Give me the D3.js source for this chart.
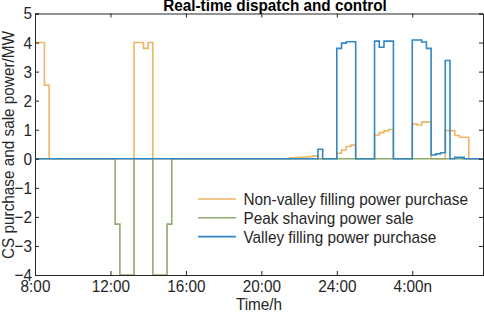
<!DOCTYPE html>
<html>
<head>
    <meta charset="UTF-8">
    <title>Real-time dispatch and control</title>
    <style>
        body { margin: 0; background: #fff; }
        text { font-family: "Liberation Sans", Arial, sans-serif; }
    </style>
</head>
<body>
<div id="chart"></div>
<script src="https://cdn.jsdelivr.net/npm/d3@7/dist/d3.min.js"></script>
<script>
// 15-minute slots, slot 0 = 8:00, slot 95 = 7:45 next day
const nonValley = [
    4, 4, 2.53, 0, 0, 0, 0, 0,
    0, 0, 0, 0, 0, 0, 0, 0,
    0, 0, 0, 0, 0, 4, 4, 3.8,
    4, 0, 0, 0, 0, 0, 0, 0,
    0, 0, 0, 0, 0, 0, 0, 0,
    0, 0, 0, 0, 0, 0, 0, 0,
    0, 0, 0, 0, 0, 0, 0.03, 0.04,
    0.05, 0.06, 0.08, 0.1, 0, 0, 0, 0,
    0.19, 0.3, 0.42, 0.47, 0, 0, 0, 0,
    0.82, 0.9, 0.96, 1.01, 0, 0, 0, 0,
    1.2, 1.16, 1.26, 1.27, 0, 0, 0, 0.97,
    0.97, 0.8, 0.74, 0.74, 0, 0, 0, 0
];
const peakSale = [
    0, 0, 0, 0, 0, 0, 0, 0,
    0, 0, 0, 0, 0, 0, 0, 0,
    0, -2.25, -4, -4, -4, 0, 0, 0,
    0, -4, -4, -4, -2.25, 0, 0, 0,
    0, 0, 0, 0, 0, 0, 0, 0,
    0, 0, 0, 0, 0, 0, 0, 0,
    0, 0, 0, 0, 0, 0, 0, 0,
    0, 0, 0, 0, 0, 0, 0, 0,
    0, 0, 0, 0, 0, 0, 0, 0,
    0, 0, 0, 0, 0, 0, 0, 0,
    0, 0, 0, 0, 0, 0, 0, 0,
    0, 0, 0, 0, 0, 0, 0, 0
];
const valley = [
    0, 0, 0, 0, 0, 0, 0, 0,
    0, 0, 0, 0, 0, 0, 0, 0,
    0, 0, 0, 0, 0, 0, 0, 0,
    0, 0, 0, 0, 0, 0, 0, 0,
    0, 0, 0, 0, 0, 0, 0, 0,
    0, 0, 0, 0, 0, 0, 0, 0,
    0, 0, 0, 0, 0, 0, 0, 0,
    0, 0, 0, 0, 0.33, 0, 0, 0,
    3.8, 3.98, 4.03, 4.03, 0, 0, 0, 0,
    4.05, 3.84, 4.05, 4.05, 0, 0, 0, 0,
    4.09, 4.09, 4.02, 3.8, 0.13, 0.17, 0.21, 3.38,
    0, 0.05, 0.05, 0, 0, 0, 0, 0
];
const xTickSlots = [0, 16, 32, 48, 64, 80];
const xTickLabels = ["8:00", "12:00", "16:00", "20:00", "24:00", "4:00n"];
const yTicks = [-4, -3, -2, -1, 0, 1, 2, 3, 4, 5];
const seriesNames = ["Non-valley filling power purchase", "Peak shaving power sale", "Valley filling power purchase"];
const seriesColors = ["#EDB663", "#8FAA6E", "#3287C6"];

const W = 484, H = 313;
const margin = {top: 13.5, right: 1, bottom: 38, left: 35};
const width = W - margin.left - margin.right,
      height = H - margin.top - margin.bottom;

const svg = d3.select("#chart").append("svg")
    .attr("width", W)
    .attr("height", H);
const g = svg.append("g")
    .attr("transform", `translate(${margin.left},${margin.top})`);

const x = d3.scaleLinear().domain([0, 95]).range([0, width]);
const y = d3.scaleLinear().domain([-4, 5]).range([height, 0]);

const axisColor = "#262626";
const fontSize = "17px";

// the source figure was squeezed sideways, so text is a bit narrow
function squeeze(sel) {
    sel.each(function() {
        const len = this.getComputedTextLength();
        if (len > 0) {
            d3.select(this)
                .attr("textLength", len * 0.9)
                .attr("lengthAdjust", "spacingAndGlyphs");
        }
    });
}

// lines
const line = d3.line()
    .x((d, i) => x(i))
    .y(d => y(d))
    .curve(d3.curveStepAfter);

[nonValley, peakSale, valley].forEach(function(s, k) {
    g.append("path")
        .datum(s)
        .attr("d", line)
        .style("fill", "none")
        .style("stroke", seriesColors[k])
        .style("stroke-width", 1.6);
});

// axes, ticks inside, box on
const xAxis = g.append("g")
    .attr("transform", `translate(0,${height})`)
    .call(d3.axisBottom(x).tickValues(xTickSlots)
        .tickFormat((d, i) => xTickLabels[i]).tickSize(-4).tickPadding(5));
const xTop = g.append("g")
    .call(d3.axisTop(x).tickValues(xTickSlots).tickFormat("").tickSize(-4));
const yAxis = g.append("g")
    .call(d3.axisLeft(y).tickValues(yTicks).tickSize(-4).tickPadding(3));
const yRight = g.append("g")
    .attr("transform", `translate(${width},0)`)
    .call(d3.axisRight(y).tickValues(yTicks).tickFormat("").tickSize(-4));

[xAxis, xTop, yAxis, yRight].forEach(function(a) {
    a.select(".domain").style("stroke", axisColor).style("stroke-width", 1);
    a.selectAll(".tick line").style("stroke", axisColor);
    a.selectAll("text")
        .style("font-size", fontSize)
        .style("fill", axisColor)
        .call(squeeze);
});

// labels
svg.append("text")
    .attr("x", 275)
    .attr("y", 11)
    .attr("text-anchor", "middle")
    .style("font-size", fontSize)
    .style("font-weight", "bold")
    .style("fill", "#000")
    .text("Real-time dispatch and control")
    .call(squeeze);

svg.append("text")
    .attr("x", margin.left + width / 2)
    .attr("y", 310)
    .attr("text-anchor", "middle")
    .style("font-size", fontSize)
    .style("fill", axisColor)
    .text("Time/h")
    .call(squeeze);

svg.append("text")
    .attr("transform", `translate(13.5,${145}) rotate(-90)`)
    .attr("text-anchor", "middle")
    .style("font-size", fontSize)
    .style("fill", axisColor)
    .text("CS purchase and sale power/MW")
    .call(squeeze);

// legend (no box)
const legend = svg.append("g").attr("transform", "translate(198,199)");
seriesNames.forEach(function(name, k) {
    const row = legend.append("g").attr("transform", `translate(0,${k * 18.8})`);
    row.append("line")
        .attr("x1", 0).attr("x2", 38)
        .attr("y1", 0).attr("y2", 0)
        .style("stroke", seriesColors[k])
        .style("stroke-width", 1.6);
    row.append("text")
        .attr("x", 45.5)
        .attr("y", 6)
        .style("font-size", fontSize)
        .style("fill", axisColor)
        .text(name)
        .call(squeeze);
});
</script>
</body>
</html>
